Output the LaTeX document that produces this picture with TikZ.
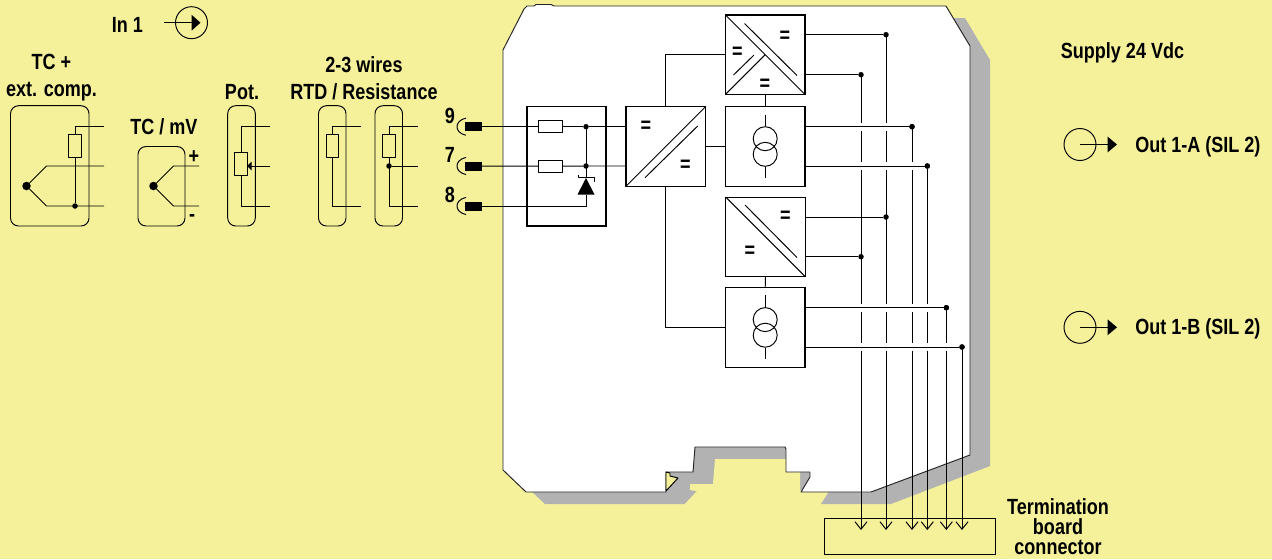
\documentclass[tikz,border=0pt]{standalone}
\usepackage{fontspec}
\setmainfont[FakeStretch=0.82]{Liberation Sans}
\usepackage{xcolor}
\usetikzlibrary{arrows.meta}
\usetikzlibrary{calc}
\definecolor{bgyellow}{HTML}{F5F19B}
\definecolor{shadowgrey}{HTML}{B2B2B2}
\tikzset{
    wire/.style={line width=.55pt, line join=round},
    halo/.style={wire, preaction={draw=white, line width=4.6pt}},
    dropline/.style={wire, -{Straight Barb[length=1.5mm,width=2.4mm]}},
    blockbox/.style={draw, line width=.65pt, minimum size=1.59cm, inner sep=0, outer sep=0},
    resbox/.style={draw, wire, fill=white, minimum width=.49cm, minimum height=.245cm, inner sep=0, outer sep=0},
    tallres/.style={draw, wire, minimum width=.245cm, minimum height=.47cm, inner sep=0, outer sep=0},
    sensorbox/.style={draw, wire, rounded corners=.16cm},
    jdot/.style={circle, fill=black, minimum size=.11cm, inner sep=0, outer sep=0},
    tcdot/.style={circle, fill=black, minimum size=.17cm, inner sep=0, outer sep=0},
    lbl/.style={font=\fontsize{12.5}{15.4}\selectfont\bfseries, align=center, inner sep=0},
    eqsign/.style={font=\fontsize{12.5}{12.5}\selectfont\bfseries, inner sep=0}
}
\begin{document}
\begin{tikzpicture}[x=.02cm, y=-.02cm]
    \fill[bgyellow] (0,0) rectangle (1272,559);
    \useasboundingbox (0,0) rectangle (1272,559);

    % housing
    \fill[shadowgrey] (950,18) -- (965,18) -- (990,60) -- (990,466) -- (891,504) -- (821,504) -- (830,490)
        -- (720,490) -- (713,484) -- (690,484) -- (690,490) -- (697,491) -- (685,504) -- (545,504) -- (530,490) -- cycle;
    \fill[bgyellow] (715,459) -- (800,459) -- (800,492) -- (821,504) -- (685,504) -- (697,491) -- (690,490) -- (690,484) -- (713,484) -- cycle;
    \fill[shadowgrey] (695,447) rectangle (786,459);
    \filldraw[fill=white, wire, draw=black!85] (503,50) -- (524,9) -- (527,6) -- (534,6) -- (536,4.5) -- (551,4.5) -- (554,6) -- (946,6)
        -- (970,46) -- (970,455) -- (871,492) -- (801,492) -- (810,477) -- (810,472) -- (786,472) -- (786,449) -- (785,447)
        -- (695,447) -- (693,472) -- (666,472) -- (666,492) -- (526,492) -- (503,470) -- cycle;
    \filldraw[fill=bgyellow, wire] (666,472) -- (670,473) -- (670,476) -- (678,478) -- (666,491) -- cycle;

    % sensors
    \node[lbl] (intxt) at (127.5,24.5) {In 1};
    \node[draw, wire, circle, minimum size=.64cm, inner sep=0] (inring) at (191.5,22.7) {};
    \coordinate (instub) at (164,22.7);
    \coordinate (intip) at (200.5,22.7);
    \draw[wire] (instub) -- (inring.center);
    \fill (intip) -- ++(-9,-8) -- ++(0,16) -- cycle;

    \node[lbl] (tcatxt) at (51.5,78) {TC +\\ext. comp.};
    \node[lbl] (tcbtxt) at (164,127) {TC / mV};
    \node[lbl] (pottxt) at (242,92) {Pot.};
    \node[lbl] (rtdtxt) at (364,78.5) {2-3 wires\\RTD / Resistance};
    \draw[sensorbox] (10.5,105.7) rectangle (89,226);
    \draw[sensorbox] (138,146.5) rectangle (185,226);
    \draw[sensorbox] (227.7,105.7) rectangle (255.3,226);
    \draw[sensorbox] (318.5,105.7) rectangle (346,226);
    \draw[sensorbox] (375,105.7) rectangle (402.5,226);

    % TC + ext. comp.
    \node[tallres] (resa) at (75,146.2) {};
    \node[tcdot] (tca) at (26.5,186) {};
    \node[jdot] (tcaj) at (75,206) {};
    \coordinate (tcaa) at (104,126.7);
    \coordinate (tcab) at (104,166);
    \coordinate (tcac) at (104,206);
    \draw[wire] (tcaa) -- (resa.north |- tcaa) -- (resa.north);
    \draw[wire] (resa.south) -- (tcaj);
    \draw[wire] (tca) -- (46.5,166) -- (tcab);
    \draw[wire] (tca) -- (46.5,206) -- (tcac);

    % TC / mV
    \node[tcdot] (tcb) at (153.5,186) {};
    \coordinate (tcba) at (199,166);
    \coordinate (tcbb) at (199,206);
    \draw[wire] (tcb) -- (173.5,166) -- (tcba);
    \draw[wire] (tcb) -- (173.5,206) -- (tcbb);
    \node[lbl] (plustxt) at (194,157) {+};
    \node[lbl] (minustxt) at (192,218) {-};

    % Pot.
    \node[tallres] (resb) at (241,164.2) {};
    \coordinate (pota) at (270,126.7);
    \coordinate (potb) at (270,166);
    \coordinate (potc) at (270,206);
    \draw[wire] (pota) -- (resb.north |- pota) -- (resb.north);
    \draw[wire] (resb.south) -- (resb.south |- potc) -- (potc);
    \draw[wire, -{Triangle[length=.9mm,width=1.7mm]}] (potb) -- (resb.east |- potb);

    % RTD / Resistance
    \node[tallres] (resc) at (332.5,146.2) {};
    \coordinate (rtda) at (361,126.7);
    \coordinate (rtdb) at (361,206);
    \draw[wire] (rtda) -- (resc.north |- rtda) -- (resc.north);
    \draw[wire] (resc.south) -- (resc.south |- rtdb) -- (rtdb);
    \node[tallres] (resd) at (389,146.2) {};
    \node[jdot] (rtdj) at (389,166) {};
    \coordinate (rtdc) at (417.5,126.7);
    \coordinate (rtdd) at (417.5,166);
    \coordinate (rtde) at (417.5,206);
    \draw[wire] (rtdc) -- (resd.north |- rtdc) -- (resd.north);
    \draw[wire] (resd.south) -- (resd.south |- rtde) -- (rtde);
    \draw[wire] (rtdj) -- (rtdd);

    % terminals
    \foreach \n/\y in {9/126.7, 7/166, 8/206}
    {
        \node[fill=black, minimum width=.34cm, minimum height=.18cm, inner sep=0, outer sep=0] (term\n) at (473.5,\y) {};
        \node[lbl] (num\n) at (450,\y-10.8) {\n};
        \draw[wire] (466,\y-8.5) .. controls (459,\y-7) and (457,\y-3) .. (457,\y) .. controls (457,\y+3) and (459,\y+7) .. (466,\y+8.5);
    }

    % blocks
    \node[draw, line width=.65pt, minimum width=1.58cm, minimum height=2.39cm, inner sep=0, outer sep=0] (prot) at (566.5,166.2) {};
    \node[blockbox] (conv) at (665.8,146.5) {};
    \node[blockbox] (dcupper) at (765.2,54.7) {};
    \node[blockbox] (outupper) at (765.2,146.5) {};
    \node[blockbox] (dclower) at (765.5,236.9) {};
    \node[blockbox] (outlower) at (765.2,327.4) {};

    % protection
    \node[resbox] (resin) at (550.5,126.7) {};
    \node[resbox] (resout) at (550.5,166.2) {};
    \node[jdot] (ja) at (586,126.7) {};
    \node[jdot] (jb) at (586,166) {};
    \coordinate (zener) at (586,178);
    \coordinate (zenbase) at (586,194.5);
    \draw[wire] (term9) -- (resin);
    \draw[wire] (term7) -- (resout);
    \draw[wire] (resin) -- (ja) -- (conv.west |- ja);
    \draw[wire] (resout) -- (jb) -- (conv.west |- jb);
    \draw[wire] (ja) -- (zener);
    \fill (zener) -- ($(zenbase)+(-8.5,0)$) -- ($(zenbase)+(8.5,0)$) -- cycle;
    \draw[wire] (578.5,174.5) -- (578.5,177.7) -- (594.5,177.7) -- (594.5,181.5);
    \draw[wire] (zenbase) -- (zenbase |- term8) -- (term8);

    % block symbols
    \draw[wire] (conv.south west) -- (conv.north east);
    \draw[wire] (645,177.7) -- (697.7,126);
    \draw[wire] (dcupper.north west) -- (dcupper.south east);
    \draw[wire] (744.5,23.5) -- (797,75.5);
    \draw[wire] (dcupper.south west) -- (dcupper.center);
    \draw[wire] (733.5,75) -- (754,55);
    \draw[wire] (dclower.north west) -- (dclower.south east);
    \draw[wire] (745,205) -- (797,257.5);
    \foreach \x/\y [count=\i] in {646/126.7, 685.5/166, 785/36.7, 737.5/52.7, 765/84.7, 785.5/216.5, 750/251.5}
    {
        \node[eqsign] (eq\i) at (\x,\y) {=};
    }
    \foreach \b in {outupper, outlower}
    {
        \node[draw, wire, circle, minimum size=.48cm, inner sep=0] (\b ra) at ($(\b.center)+(0,-7.8)$) {};
        \node[draw, wire, circle, minimum size=.48cm, inner sep=0] (\b rb) at ($(\b.center)+(0,7.8)$) {};
        \draw[wire] ($(\b ra.north)+(0,-11.7)$) -- (\b ra.north);
        \draw[wire] (\b rb.south) -- ($(\b rb.south)+(0,11.7)$);
    }

    % block links
    \draw[wire] (conv.east) -- (outupper.west);
    \draw[wire] (conv.north) -- (conv.north |- dcupper.west) -- (dcupper.west);
    \draw[wire] (conv.south) -- (conv.south |- outlower.west) -- (outlower.west);
    \draw[wire] (dcupper.south) -- (outupper.north);
    \draw[wire] (dclower.south) -- (outlower.north);

    % connector and output wires
    \node[draw, wire, minimum width=3.42cm, minimum height=.72cm, inner sep=0, outer sep=0] (conn) at (910,536.4) {};
    \coordinate (tip) at (0,530);
    \node[jdot] (sa) at (861,74.7) {};
    \node[jdot] (sb) at (886,34.7) {};
    \node[jdot] (sc) at (861,256.7) {};
    \node[jdot] (sd) at (886,217) {};
    \node[jdot] (oa) at (912,126.7) {};
    \node[jdot] (ob) at (927.3,166) {};
    \node[jdot] (oc) at (946.3,307.7) {};
    \node[jdot] (od) at (962,347) {};
    \draw[dropline] (sa) -- (sa |- tip);
    \draw[dropline] (sb) -- (sb |- tip);
    \draw[wire] (dcupper.east |- sa) -- (sa);
    \draw[wire] (dcupper.east |- sb) -- (sb);
    \draw[wire] (dclower.east |- sc) -- (sc);
    \draw[wire] (dclower.east |- sd) -- (sd);
    \draw[halo] (outupper.east |- oa) -- (oa);
    \draw[dropline] (oa) -- (oa |- tip);
    \draw[halo] (outupper.east |- ob) -- (ob);
    \draw[dropline] (ob) -- (ob |- tip);
    \draw[halo] (outlower.east |- oc) -- (oc);
    \draw[dropline] (oc) -- (oc |- tip);
    \draw[halo] (outlower.east |- od) -- (od);
    \draw[dropline] (od) -- (od |- tip);
    \foreach \j in {oa, ob, oc, od}
    {
        \fill (\j) circle (2.7);
    }
    \draw[line width=.65pt] (outupper.north east) -- (outupper.south east);
    \draw[line width=.65pt] (outlower.north east) -- (outlower.south east);

    % right side
    \node[lbl] (supply) at (1122.5,52.5) {Supply 24 Vdc};
    \foreach \y/\t in {144.5/A, 327.3/B}
    {
        \node[draw, wire, circle, minimum size=.64cm, inner sep=0] (ring\t) at (1080,\y) {};
        \coordinate (head\t) at (1117,\y);
        \draw[wire] (ring\t.center) -- (1108,\y);
        \fill (head\t) -- ++(-9.5,-8) -- ++(0,16) -- cycle;
        \node[lbl, anchor=west] (out\t) at (1135,\y+2) {Out 1-\t{} (SIL 2)};
    }
    \node[lbl, font=\fontsize{12.5}{11.4}\selectfont\bfseries] (conntxt) at (1058,527) {Termination\\board\\connector};
\end{tikzpicture}
\end{document}
